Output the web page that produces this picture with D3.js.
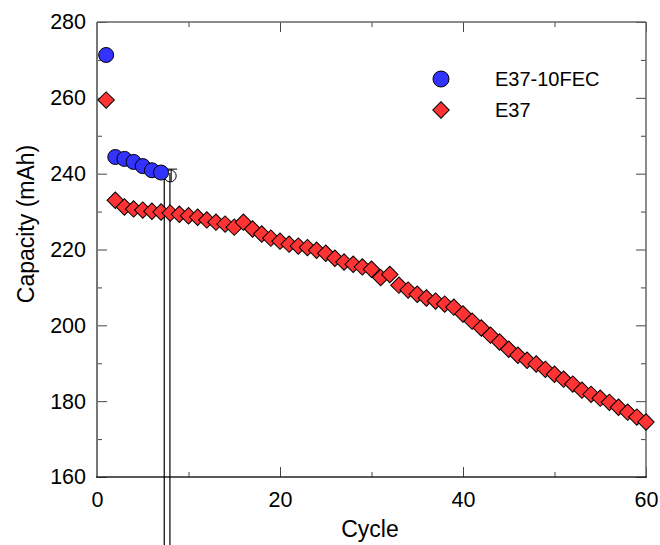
<!DOCTYPE html>
<html lang="en">
<head>
    <meta charset="utf-8">
    <title>capacity.html</title>
    <script type="text/javascript" src="https://cdnjs.cloudflare.com/ajax/libs/d3/7.8.5/d3.min.js"></script>
    <style>
      body { margin: 0; background: #fff; }
      text { font-family: "Liberation Sans", Arial, sans-serif; }
    </style>
</head>
<body>
    <script type="text/javascript">
      //data
      var fecCycles = [1, 2, 3, 4, 5, 6, 7];
      var fecCapacity = [271.3, 244.4, 243.9, 243.1, 242.0, 240.9, 240.3];
      // cycle 8 of E37-10FEC drawn as open point with a broken error bar
      var fecOpenCycle = 8, fecOpenValue = 239.4, fecOpenErr = 241.2;

      var e37Cycles = d3.range(1, 61);
      var e37Capacity = [259.4, 233.0, 231.2, 230.7, 230.4, 230.1, 229.9, 229.6, 229.3, 228.9,
                         228.5, 227.8, 227.2, 226.7, 225.9, 227.2, 225.4, 224.1, 223.0, 222.2,
                         221.4, 220.9, 220.5, 219.8, 219.0, 217.7, 216.7, 216.1, 215.4, 214.8,
                         212.6, 213.4, 210.6, 209.3, 208.2, 207.2, 206.4, 205.6, 204.8, 203.0,
                         201.1, 199.3, 197.4, 195.6, 193.7, 192.1, 190.8, 189.8, 188.4, 187.1,
                         185.8, 184.5, 182.9, 181.8, 180.8, 179.7, 178.4, 177.1, 175.8, 174.5];

      var xMajor = [0, 20, 40, 60], xMinor = [10, 30, 50];
      var yMajor = [160, 180, 200, 220, 240, 260, 280], yMinor = [170, 190, 210, 230, 250, 270];
      var seriesNames = ["E37-10FEC", "E37"];

      //initialize the dimensions
      var width = 660, height = 545,
          margin = {left: 97, right: 646, top: 22, bottom: 477};

      var xScale = d3.scaleLinear().domain([0, 60]).range([margin.left, margin.right]);
      var yScale = d3.scaleLinear().domain([160, 280]).range([margin.bottom, margin.top]);

      var svg = d3.select("body").append("svg")
                  .attr("width", width)
                  .attr("height", height);

      //axes, ticks point inward
      var axisColor = "#444";
      function styleAxis(g) {
        g.select(".domain").remove();
        g.selectAll("line").attr("stroke", axisColor);
        g.attr("font-family", null).attr("font-size", null);
      }

      svg.append("g").attr("transform", "translate(0," + margin.bottom + ")")
         .call(d3.axisBottom(xScale).tickValues(xMajor).tickSize(-10).tickPadding(15).tickFormat(d3.format("d")))
         .call(styleAxis)
         .selectAll("text").attr("font-size", 21.5).attr("fill", "#000");
      svg.append("g").attr("transform", "translate(0," + margin.bottom + ")")
         .call(d3.axisBottom(xScale).tickValues(xMinor).tickSize(-5).tickFormat(""))
         .call(styleAxis);
      svg.append("g").attr("transform", "translate(0," + margin.top + ")")
         .call(d3.axisTop(xScale).tickValues(xMajor).tickSize(-10).tickFormat(""))
         .call(styleAxis);
      svg.append("g").attr("transform", "translate(0," + margin.top + ")")
         .call(d3.axisTop(xScale).tickValues(xMinor).tickSize(-5).tickFormat(""))
         .call(styleAxis);

      svg.append("g").attr("transform", "translate(" + margin.left + ",0)")
         .call(d3.axisLeft(yScale).tickValues(yMajor).tickSize(-10).tickPadding(11))
         .call(styleAxis)
         .selectAll("text").attr("font-size", 21.5).attr("fill", "#000");
      svg.append("g").attr("transform", "translate(" + margin.left + ",0)")
         .call(d3.axisLeft(yScale).tickValues(yMinor).tickSize(-5).tickFormat(""))
         .call(styleAxis);
      svg.append("g").attr("transform", "translate(" + margin.right + ",0)")
         .call(d3.axisRight(yScale).tickValues(yMajor).tickSize(-10).tickFormat(""))
         .call(styleAxis);
      svg.append("g").attr("transform", "translate(" + margin.right + ",0)")
         .call(d3.axisRight(yScale).tickValues(yMinor).tickSize(-5).tickFormat(""))
         .call(styleAxis);

      //frame
      svg.append("line").attr("x1", margin.left).attr("x2", margin.left).attr("y1", margin.top).attr("y2", margin.bottom)
         .attr("stroke", "#777").attr("stroke-width", 2);
      svg.append("line").attr("x1", margin.right).attr("x2", margin.right).attr("y1", margin.top).attr("y2", margin.bottom)
         .attr("stroke", "#666").attr("stroke-width", 1.5);
      svg.append("line").attr("x1", margin.left).attr("x2", margin.right).attr("y1", margin.top).attr("y2", margin.top)
         .attr("stroke", "#666").attr("stroke-width", 1.5);
      svg.append("line").attr("x1", margin.left - 1).attr("x2", margin.right + 1).attr("y1", margin.bottom).attr("y2", margin.bottom)
         .attr("stroke", "#222").attr("stroke-width", 1.5);

      //axis titles
      svg.append("text").attr("x", 370).attr("y", 537)
         .attr("text-anchor", "middle").attr("font-size", 23).text("Cycle");
      svg.append("text").attr("transform", "translate(34,224) rotate(-90)")
         .attr("text-anchor", "middle").attr("font-size", 23).text("Capacity (mAh)");

      //broken error bar artifact around cycle 8
      var artifact = svg.append("g").attr("stroke", "#000").attr("fill", "none");
      [7.35, 7.97].forEach(function(c) {
        artifact.append("line")
           .attr("x1", xScale(c)).attr("x2", xScale(c))
           .attr("y1", yScale(fecOpenValue) - 3).attr("y2", height)
           .attr("stroke-width", 1.2);
      });

      //E37 diamonds
      var diamond = d3.symbol().type(d3.symbolSquare).size(135);
      svg.append("g").selectAll("path")
         .data(e37Cycles)
         .enter().append("path")
         .attr("d", diamond)
         .attr("transform", function(d, i) { return "translate(" + xScale(d) + "," + yScale(e37Capacity[i]) + ") rotate(45)"; })
         .attr("fill", "#ff3333")
         .attr("stroke", "#000")
         .attr("stroke-width", 1);

      //E37-10FEC circles
      svg.append("g").selectAll("circle")
         .data(fecCycles)
         .enter().append("circle")
         .attr("cx", function(d) { return xScale(d); })
         .attr("cy", function(d, i) { return yScale(fecCapacity[i]); })
         .attr("r", 7.5)
         .attr("fill", "#3333ff")
         .attr("stroke", "#000")
         .attr("stroke-width", 1);

      //open point with error bar cap
      artifact.append("circle")
         .attr("cx", xScale(fecOpenCycle)).attr("cy", yScale(fecOpenValue))
         .attr("r", 6).attr("stroke-width", 1);
      artifact.append("line")
         .attr("x1", xScale(fecOpenCycle) - 5).attr("x2", xScale(fecOpenCycle) + 7)
         .attr("y1", yScale(fecOpenErr)).attr("y2", yScale(fecOpenErr));
      artifact.append("line")
         .attr("x1", xScale(fecOpenCycle) + 1).attr("x2", xScale(fecOpenCycle) + 1)
         .attr("y1", yScale(fecOpenErr)).attr("y2", yScale(fecOpenValue) + 6);

      //legend
      var legend = svg.append("g");
      legend.append("circle").attr("cx", 441).attr("cy", 79).attr("r", 8)
         .attr("fill", "#3333ff").attr("stroke", "#000");
      legend.append("path").attr("d", diamond)
         .attr("transform", "translate(441,110) rotate(45)")
         .attr("fill", "#ff3333").attr("stroke", "#000");
      legend.selectAll("text").data(seriesNames).enter().append("text")
         .attr("x", 495).attr("y", function(d, i) { return 79 + i * 31; })
         .attr("dy", "0.36em").attr("font-size", 20).text(function(d) { return d; });
    </script>
</body>
</html>
